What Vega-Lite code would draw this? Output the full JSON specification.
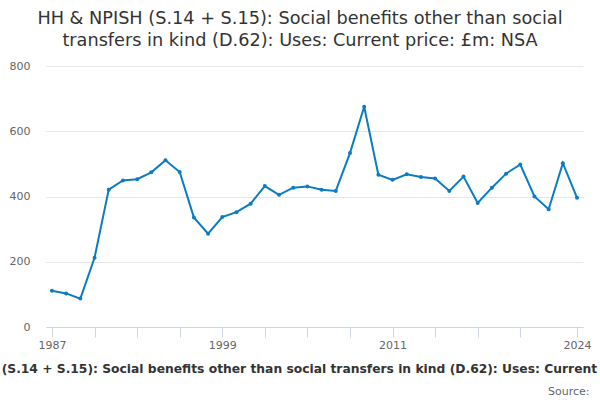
{
  "$schema": "https://vega.github.io/schema/vega-lite/v6.json",
  "width": 537,
  "height": 261,
  "autosize": {"type": "none"},
  "padding": {"left": 46, "top": 66, "right": 17, "bottom": 73},
  "background": "white",
  "title": {
    "text": ["HH & NPISH (S.14 + S.15): Social benefits other than social", "transfers in kind (D.62): Uses: Current price: £m: NSA"],
    "font": "DejaVu Sans",
    "fontSize": 17.7,
    "fontWeight": "normal",
    "color": "#333333",
    "lineHeight": 22,
    "anchor": "middle",
    "dx": -14.5,
    "offset": 10
  },
  "config": {
    "view": {"stroke": null},
    "font": "DejaVu Sans"
  },
  "data": {
    "values": [
      {"year": 1987, "value": 111},
      {"year": 1988, "value": 103},
      {"year": 1989, "value": 87},
      {"year": 1990, "value": 212},
      {"year": 1991, "value": 421},
      {"year": 1992, "value": 449},
      {"year": 1993, "value": 453},
      {"year": 1994, "value": 474},
      {"year": 1995, "value": 511},
      {"year": 1996, "value": 475},
      {"year": 1997, "value": 336},
      {"year": 1998, "value": 286},
      {"year": 1999, "value": 337},
      {"year": 2000, "value": 352},
      {"year": 2001, "value": 378},
      {"year": 2002, "value": 432},
      {"year": 2003, "value": 405},
      {"year": 2004, "value": 427},
      {"year": 2005, "value": 431},
      {"year": 2006, "value": 421},
      {"year": 2007, "value": 417},
      {"year": 2008, "value": 533},
      {"year": 2009, "value": 675},
      {"year": 2010, "value": 467},
      {"year": 2011, "value": 451},
      {"year": 2012, "value": 468},
      {"year": 2013, "value": 460},
      {"year": 2014, "value": 455},
      {"year": 2015, "value": 417},
      {"year": 2016, "value": 461},
      {"year": 2017, "value": 380},
      {"year": 2018, "value": 427},
      {"year": 2019, "value": 470},
      {"year": 2020, "value": 498},
      {"year": 2021, "value": 400},
      {"year": 2022, "value": 361},
      {"year": 2023, "value": 502},
      {"year": 2024, "value": 396}
    ]
  },
  "resolve": {"axis": {"x": "independent"}},
  "layer": [
    {
      "mark": {"type": "line", "color": "#0b7cc1", "strokeWidth": 2, "point": {"filled": true, "size": 16, "color": "#0b7cc1"}},
      "encoding": {
        "x": {
          "field": "year",
          "type": "quantitative",
          "scale": {"domain": [1986.58, 2024.42], "nice": false, "zero": false},
          "axis": {
            "orient": "bottom",
            "values": [1987, 1990, 1993, 1996, 1999, 2002, 2005, 2008, 2011, 2014, 2017, 2020, 2024],
            "labelExpr": "indexof([1987,1999,2011,2024], datum.value) >= 0 ? datum.label : ''",
            "format": "d",
            "grid": false,
            "domainColor": "#ccd6eb",
            "tickColor": "#ccd6eb",
            "tickSize": 10,
            "labelPadding": 2,
            "labelColor": "#666666",
            "labelFontSize": 11,
            "labelFont": "DejaVu Sans",
            "labelOverlap": false,
            "labelFlush": false,
            "title": "HH & NPISH (S.14 + S.15): Social benefits other than social transfers in kind (D.62): Uses: Current price: £m: NSA",
            "titleFont": "DejaVu Sans",
            "titleFontSize": 12.3,
            "titleFontWeight": "bold",
            "titleColor": "#333333",
            "titlePadding": 12,
            "titleLimit": 0,
            "titleX": 263,
            "titleAnchor": "middle"
          }
        },
        "y": {
          "field": "value",
          "type": "quantitative",
          "scale": {"domain": [0, 800], "nice": false},
          "axis": {
            "values": [0, 200, 400, 600, 800],
            "grid": true,
            "gridColor": "#e6e6e6",
            "domain": false,
            "ticks": false,
            "labelPadding": 16,
            "labelColor": "#666666",
            "labelFontSize": 11,
            "labelFont": "DejaVu Sans",
            "title": null
          }
        }
      }
    },
    {
      "mark": {"type": "point", "opacity": 0},
      "encoding": {
        "x": {
          "field": "year",
          "type": "quantitative",
          "axis": {
            "orient": "bottom",
            "offset": 58,
            "domain": false,
            "ticks": false,
            "labels": false,
            "grid": false,
            "title": "Source:",
            "titleFont": "DejaVu Sans",
            "titleFontSize": 11,
            "titleFontWeight": "normal",
            "titleColor": "#666666",
            "titleAnchor": "end",
            "titleAlign": "right",
            "titleX": 543,
            "titlePadding": 0
          }
        },
        "y": {"field": "value", "type": "quantitative"}
      }
    }
  ]
}
